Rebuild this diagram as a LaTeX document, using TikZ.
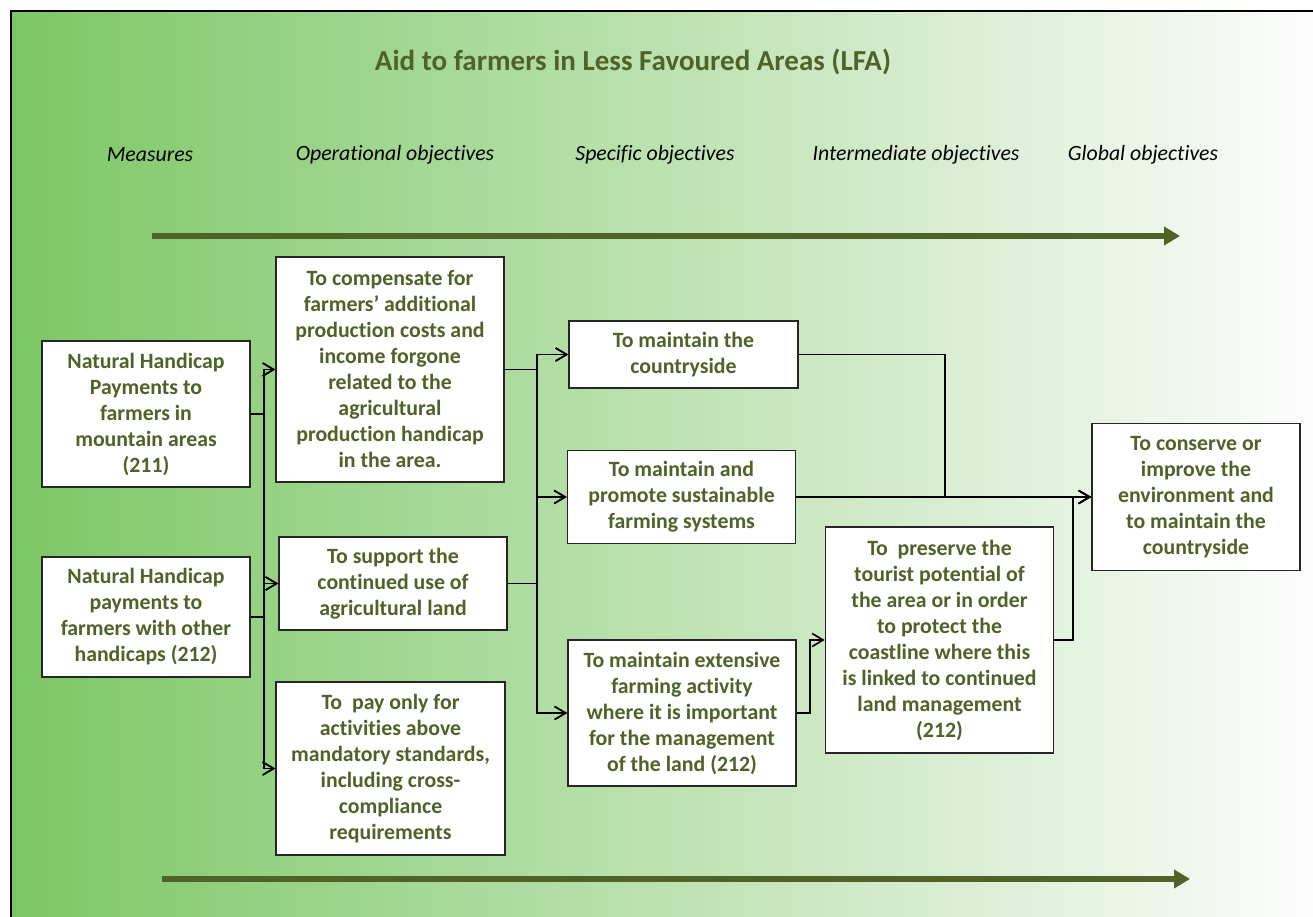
\documentclass[tikz,border=0pt]{standalone}
\usepackage{fontspec}
\setmainfont{Carlito}[Ligatures=NoCommon]
\usetikzlibrary{arrows.meta}
\definecolor{lfaolive}{RGB}{79,98,40}
\definecolor{lfagreen}{RGB}{124,199,101}
\tikzset{
    box/.style={draw=black!85, line width=1.6pt, fill=white, inner sep=0pt,
        align=center, text=lfaolive, font=\fontsize{21.8}{26}\selectfont\bfseries},
    link/.style={draw=black, line width=1.6pt, -{Straight Barb[length=11pt,width=13pt]}},
    colhead/.style={font=\fontsize{21.8}{24}\selectfont\itshape},
    bigarrow/.style={draw=lfaolive, line width=6pt, -{Triangle[length=16pt,width=18pt]}}
}

\begin{document}
\begin{tikzpicture}[x=1pt,y=-1pt]
    \useasboundingbox (0,0) rectangle (1313,917);
    %% background
    \shade[left color=lfagreen, right color=white!99!black] (11,11) rectangle (1313,917);
    \draw[line width=2.5pt] (11,917) -- (11,11) -- (1313,11);
    %% title
    \node[text=lfaolive, font=\fontsize{29}{34}\selectfont\bfseries] (title) at (633,62)
    {Aid to farmers in Less Favoured Areas (LFA)};
    %% column heads
    \node[colhead] (hm) at (150,155) {Measures};
    \node[colhead] (ho) at (395,155) {Operational objectives};
    \node[colhead] (hs) at (655,155) {Specific objectives};
    \node[colhead] (hi) at (916,155) {Intermediate objectives};
    \node[colhead] (hg) at (1143,155) {Global objectives};
    % big arrows
    \coordinate (ta0) at (152,236);
    \coordinate (ta1) at (1180,236);
    \coordinate (ba0) at (162,879);
    \coordinate (ba1) at (1190,879);
    \draw[bigarrow] (ta0) -- (ta1);
    \draw[bigarrow] (ba0) -- (ba1);
    %% measures
    \node[box, minimum width=208pt, minimum height=146pt] (m1) at (146,414)
    {Natural Handicap\\Payments to\\farmers in\\mountain areas\\(211)};
    \node[box, minimum width=208pt, minimum height=120pt] (m2) at (146,617)
    {Natural Handicap\\payments to\\farmers with other\\handicaps (212)};
    %% operational objectives
    \node[box, minimum width=228pt, minimum height=225pt] (o1) at (390,369.5)
    {To compensate for\\farmers’ additional\\production costs and\\income forgone\\related to the\\agricultural\\production handicap\\in the area.};
    \node[box, minimum width=228pt, minimum height=93pt] (o2) at (393,583.5)
    {To support the\\continued use of\\agricultural land};
    \node[box, minimum width=229pt, minimum height=173pt] (o3) at (390.5,768.5)
    {To\ \ pay only for\\activities above\\mandatory standards,\\including cross-\\compliance\\requirements};
    %% specific objectives
    \node[box, minimum width=229pt, minimum height=67pt] (s1) at (683.5,354.5)
    {To maintain the\\countryside};
    \node[box, minimum width=228pt, minimum height=93pt] (s2) at (681.5,497)
    {To maintain and\\promote sustainable\\farming systems};
    \node[box, minimum width=228pt, minimum height=146pt] (s3) at (682,713)
    {To maintain extensive\\farming activity\\where it is important\\for the management\\of the land (212)};
    %% intermediate / global
    \node[box, minimum width=228pt, minimum height=226pt] (i1) at (939.5,640)
    {To\ \ preserve the\\tourist potential of\\the area or in order\\to protect the\\coastline where this\\is linked to continued\\land management\\(212)};
    \node[box, minimum width=208pt, minimum height=147pt] (g1) at (1196,497)
    {To conserve or\\improve the\\environment and\\to maintain the\\countryside};
    %% bus lines
    \coordinate (b1) at (264,0);
    \coordinate (b2) at (537,0);
    \coordinate (b3) at (810,0);
    \coordinate (b4) at (945,0);
    \coordinate (b5) at (1073,0);
    % measures -> operational
    \draw[link] (m1.east) -| (b1 |- o1.west) -- (o1.west);
    \draw[link] (m1.east) -| (b1 |- o2.west) -- (o2.west);
    \draw[link] (m1.east) -| (b1 |- o3.west) -- (o3.west);
    \draw[link] (m2.east) -| (b1 |- o1.west) -- (o1.west);
    \draw[link] (m2.east) -| (b1 |- o2.west) -- (o2.west);
    \draw[link] (m2.east) -| (b1 |- o3.west) -- (o3.west);
    % operational -> specific
    \draw[link] (o1.east) -| (b2 |- s1.west) -- (s1.west);
    \draw[link] (o1.east) -| (b2 |- s2.west) -- (s2.west);
    \draw[link] (o1.east) -| (b2 |- s3.west) -- (s3.west);
    \draw[link] (o2.east) -| (b2 |- s1.west) -- (s1.west);
    \draw[link] (o2.east) -| (b2 |- s2.west) -- (s2.west);
    \draw[link] (o2.east) -| (b2 |- s3.west) -- (s3.west);
    % specific -> intermediate -> global
    \draw[link] (s3.east) -| (b3 |- i1.west) -- (i1.west);
    \draw[link] (s1.east) -| (b4 |- g1.west) -- (g1.west);
    \draw[link] (s2.east) -- (g1.west);
    \draw[link] (i1.east) -| (b5 |- g1.west) -- (g1.west);
\end{tikzpicture}
\end{document}
